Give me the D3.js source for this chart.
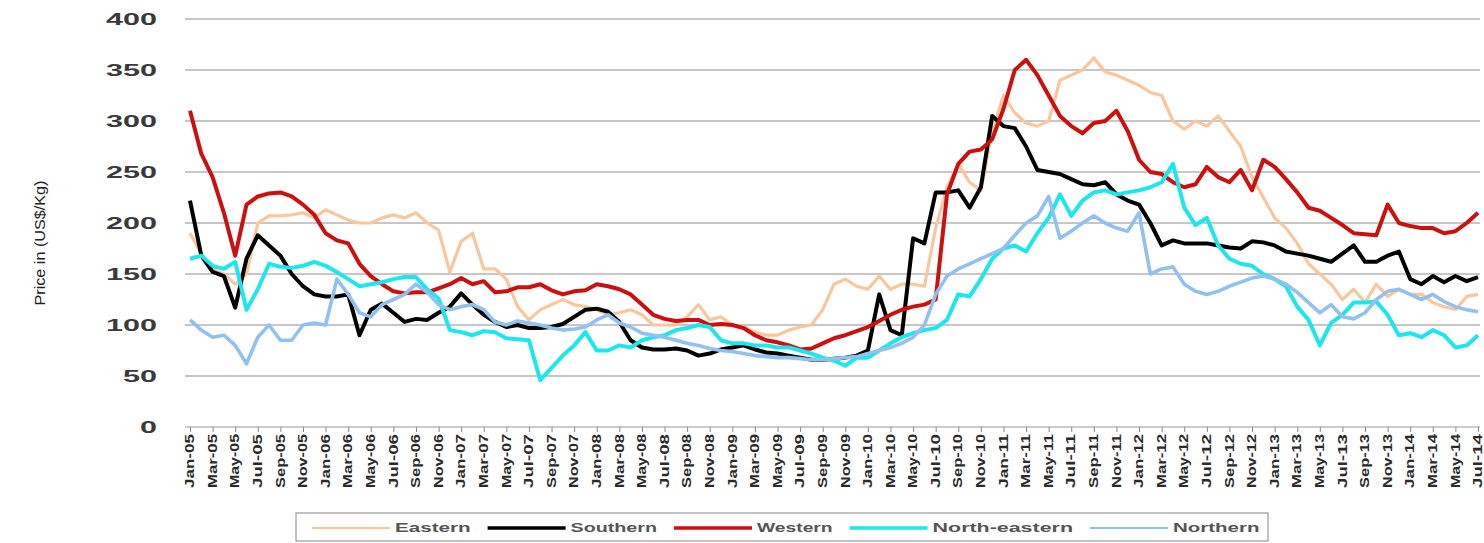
<!DOCTYPE html>
<html>
<head>
<meta charset="utf-8">
<script src="https://cdn.jsdelivr.net/npm/d3@7"></script>
<style>
  body { margin: 0; background: #fff; }
  svg { display: block; }
  .grid line { stroke: #b4b4b4; stroke-width: 1.6; }
  .ylab { font-family: "Liberation Sans", Arial, sans-serif; font-weight: bold; fill: #3a3a3a; }
  .xlab { font-family: "Liberation Sans", Arial, sans-serif; font-weight: bold; fill: #2a2a2a; }
  .legtext { font-family: "Liberation Sans", Arial, sans-serif; font-weight: bold; fill: #555; }
</style>
</head>
<body>
<svg id="chart"></svg>
<script>
var W = 1484, H = 543;

var monthNames = ["Jan","Feb","Mar","Apr","May","Jun","Jul","Aug","Sep","Oct","Nov","Dec"];
var years = ["05","06","07","08","09","10","11","12","13","14"];
var months = [];
years.forEach(function(y){
    monthNames.forEach(function(m, k){
        if (y === "14" && k > 6) return;
        months.push(m + "-" + y);
    });
});
var yTicks = [0, 50, 100, 150, 200, 250, 300, 350, 400];
var seriesNames = ["Eastern", "Southern", "Western", "North-eastern", "Northern"];

var eastern = [
    190,170,155,150,140,150,200,207,207,208,210,205,
    213,208,203,200,200,205,208,205,210,200,193,152,
    182,190,155,155,145,118,105,115,120,125,120,118,
    115,110,112,115,110,100,100,100,108,120,105,108,
    100,98,93,90,90,95,98,100,115,140,145,138,
    135,148,135,140,140,138,195,235,258,240,232,290,
    325,308,298,295,300,340,345,350,362,348,345,340,
    335,328,325,300,292,300,295,305,290,275,245,225,
    205,195,180,160,150,140,125,135,122,140,128,135,
    130,130,122,118,115,128,130];
var southern = [
    222,168,152,148,117,165,188,178,168,150,138,130,
    128,128,130,90,115,121,112,103,106,105,112,118,
    131,120,110,103,98,100,97,97,98,101,108,115,
    116,113,103,85,78,76,76,77,75,70,72,76,
    78,80,76,73,72,70,68,66,66,67,68,70,
    75,130,95,90,185,180,230,230,232,215,235,305,
    295,293,275,252,250,248,243,238,237,240,228,222,
    218,200,178,183,180,180,180,178,176,175,182,181,
    178,172,170,168,165,162,170,178,162,162,168,172,
    145,140,148,142,148,143,147];
var western = [
    310,268,245,210,168,218,226,229,230,226,218,208,
    190,183,180,160,148,140,133,131,132,132,136,140,
    146,140,143,132,133,137,137,140,134,130,133,134,
    140,138,135,130,120,110,106,104,105,105,100,101,
    100,97,90,85,83,80,76,77,82,87,90,94,
    98,104,110,115,118,120,125,228,258,270,272,282,
    312,350,360,345,325,305,295,288,298,300,310,290,
    262,250,248,240,235,238,255,245,240,252,232,262,
    255,243,230,215,212,205,198,190,189,188,218,200,
    197,195,195,190,192,200,210];
var northEastern = [
    165,168,158,155,162,115,135,160,157,156,158,162,
    158,152,145,138,140,142,145,147,147,135,126,95,
    93,90,94,93,87,86,85,46,58,70,80,93,
    75,75,80,78,85,88,90,95,97,100,98,85,
    82,82,80,80,78,78,75,72,68,65,60,68,
    68,75,82,88,92,95,97,105,130,128,145,165,
    175,178,172,190,205,228,207,222,230,232,228,230,
    232,235,240,258,215,198,205,178,165,160,158,150,
    145,138,118,105,80,102,110,122,122,123,110,90,
    92,88,95,90,78,80,90];
var northern = [
    105,95,88,90,80,62,88,100,85,85,100,102,
    100,145,130,112,108,120,125,130,140,132,120,115,
    118,120,115,103,100,104,102,100,97,95,96,98,
    105,110,102,98,92,90,88,85,82,80,77,75,
    74,72,70,69,68,68,67,66,66,67,68,69,
    72,75,78,82,88,100,130,148,155,160,165,170,
    175,188,200,207,226,185,192,200,207,200,195,192,
    210,150,155,157,140,133,130,133,138,142,146,148,
    145,140,132,122,112,120,108,106,112,125,133,135,
    130,125,130,123,118,115,113];

var series = [
    {name: seriesNames[0], values: eastern,      color: "#f8c79d", width: 3.2, legW: 2},
    {name: seriesNames[1], values: southern,     color: "#000000", width: 4,   legW: 3.5},
    {name: seriesNames[2], values: western,      color: "#cc1010", width: 4,   legW: 3.5},
    {name: seriesNames[3], values: northEastern, color: "#1de6ec", width: 4,   legW: 3.5},
    {name: seriesNames[4], values: northern,     color: "#93c1ef", width: 3.6, legW: 2}
];

var svg = d3.select("#chart").attr("width", W).attr("height", H);

var x = d3.scalePoint().domain(months).range([190, 1478]);
var y = d3.scaleLinear().domain([0, 400]).range([427, 19]);

// gridlines
svg.append("g").attr("class", "grid")
    .selectAll("line").data(yTicks.filter(function(d){ return d > 0; }))
    .enter().append("line")
    .attr("x1", 185).attr("x2", 1480)
    .attr("y1", function(d){ return y(d); })
    .attr("y2", function(d){ return y(d); });

// y labels
svg.append("g").selectAll("text").data(yTicks).enter().append("text")
    .attr("class", "ylab")
    .attr("x", 157)
    .attr("y", function(d){ return y(d); })
    .attr("dy", "0.36em")
    .attr("text-anchor", "end")
    .style("font-size", "17px")
    .attr("textLength", function(d){ return String(d).length * 17; })
    .attr("lengthAdjust", "spacingAndGlyphs")
    .text(function(d){ return d; });

// x axis
var labelMonths = months.filter(function(d, i){ return i % 2 === 0; });
var xAxis = d3.axisBottom(x).tickValues(labelMonths).tickSize(5).tickFormat("");
var xg = svg.append("g").attr("transform", "translate(0," + y(0) + ")").call(xAxis);
xg.select(".domain").attr("d", "M185,0H1480").attr("stroke", "#999").attr("stroke-width", 1.2);
xg.selectAll(".tick line").attr("stroke", "#888");

svg.append("g").selectAll("text").data(labelMonths).enter().append("text")
    .attr("class", "xlab")
    .attr("transform", function(d){ return "translate(" + x(d) + ",434)rotate(-90)"; })
    .attr("dy", "0.35em")
    .attr("text-anchor", "end")
    .style("font-size", "12px")
    .attr("textLength", 54)
    .attr("lengthAdjust", "spacingAndGlyphs")
    .text(function(d){ return d; });

// y axis title
svg.append("text")
    .attr("transform", "translate(40,243)rotate(-90)")
    .attr("dy", "0.35em")
    .attr("text-anchor", "middle")
    .style("font-family", "'Liberation Sans', Arial, sans-serif")
    .style("font-size", "14px")
    .style("fill", "#222")
    .attr("textLength", 125)
    .attr("lengthAdjust", "spacingAndGlyphs")
    .text("Price in (US$/Kg)");

// lines
var line = d3.line()
    .x(function(d, i){ return x(months[i]); })
    .y(function(d){ return y(d); });

svg.append("g").selectAll("path").data(series).enter().append("path")
    .attr("fill", "none")
    .attr("stroke", function(d){ return d.color; })
    .attr("stroke-width", function(d){ return d.width; })
    .attr("stroke-linejoin", "round")
    .attr("d", function(d){ return line(d.values); });

// legend
var leg = svg.append("g");
leg.append("rect")
    .attr("x", 296).attr("y", 513).attr("width", 972).attr("height", 28)
    .attr("fill", "#fff").attr("stroke", "#9a9a9a").attr("stroke-width", 1.2);

var lx = 312;
series.forEach(function(s){
    var tw = s.name.length * 10.8;
    leg.append("line")
        .attr("x1", lx).attr("x2", lx + 78)
        .attr("y1", 528).attr("y2", 528)
        .attr("stroke", s.color).attr("stroke-width", s.legW);
    leg.append("text")
        .attr("class", "legtext")
        .attr("x", lx + 83).attr("y", 528).attr("dy", "0.35em")
        .style("font-size", "12px")
        .attr("textLength", tw)
        .attr("lengthAdjust", "spacingAndGlyphs")
        .text(s.name);
    lx += 78 + 5 + tw + 17;
});
</script>
</body>
</html>
